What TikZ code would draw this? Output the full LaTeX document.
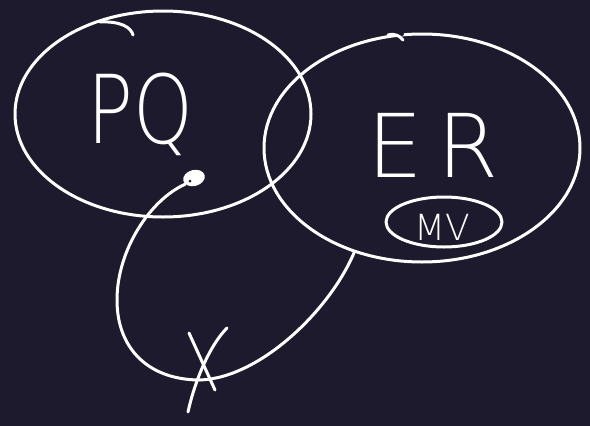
\documentclass[tikz,border=0pt]{standalone}
\usepackage{fontspec}
\newfontfamily\chalk{DejaVu Sans ExtraLight}
\usetikzlibrary{shapes.geometric}
\definecolor{board}{RGB}{30,26,46}
\tikzset{
	pen/.style={draw=white, line width=3pt, line cap=round, line join=round},
	blob/.style={ellipse, pen, inner sep=0pt},
	word/.style={text=white, anchor=base, inner sep=0pt}
}

\begin{document}
\begin{tikzpicture}[x=1pt, y=-1pt]
			%%%%% START %%%%%
			
			\fill[board] (0, 0) rectangle (590, 426);
			\useasboundingbox (0, 0) rectangle (590, 426);
			
			\node[blob, minimum width=296pt, minimum height=206pt] (pq) at (163, 114) {};
			\draw[pen] (100, 22) .. controls (120, 21) and (131, 27) .. (133, 35);
			
			\node[blob, minimum width=316pt, minimum height=228pt] (er) at (422, 148) {};
			\draw[pen, draw=board, line width=4pt] (392, 34) -- (402, 34);
			\draw[pen] (388, 35) .. controls (395, 33) and (400, 36) .. (403, 40);
			
			\node[blob, minimum width=116pt, minimum height=50pt] (mv) at (444, 222) {};
			
			\node[word, font=\chalk\fontsize{95}{95}\selectfont, xscale=0.8, transform shape] (pqtext) at (140, 143) {PQ};
			\node[word, font=\chalk\fontsize{88}{88}\selectfont] (ertext) at (433, 177) {E\kern14pt R};
			\node[word, font=\chalk\fontsize{36}{36}\selectfont] (mvtext) at (442, 240) {MV};
			
			\node[ellipse, fill=white, minimum width=22pt, minimum height=16pt, inner sep=0pt, rotate=15] (dot) at (194, 178) {};
			\fill[board] (190, 181) circle (1.5);
			
			\draw[pen] (dot.200) .. controls (150, 200) and (117, 250) .. (117, 300)
				.. controls (117, 350) and (150, 380) .. (200, 380)
				.. controls (260, 378) and (330, 310) .. (er.237);
			
			\draw[pen] (189, 333) -- (215, 390);
			\draw[pen] (227, 328) .. controls (210, 345) and (195, 380) .. (188, 412);
			
			%%%%% END %%%%%
		\end{tikzpicture}
\end{document}
